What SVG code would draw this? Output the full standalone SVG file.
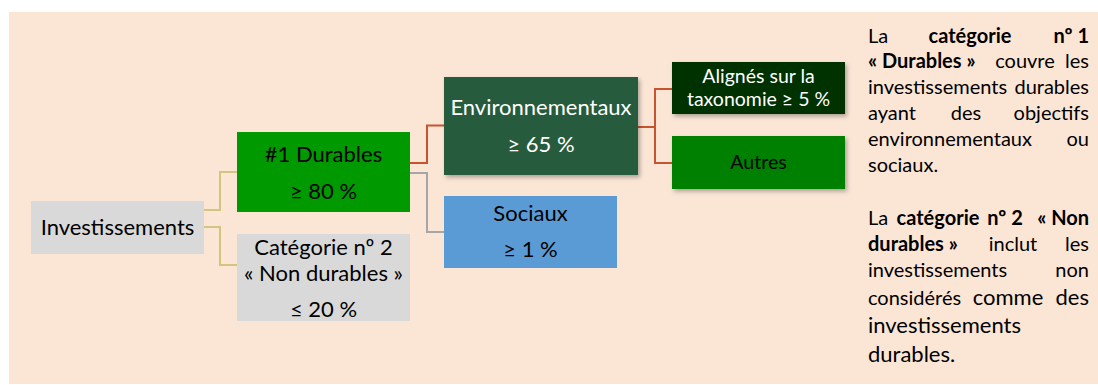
<svg xmlns="http://www.w3.org/2000/svg" width="1098" height="385" viewBox="0 0 1098 385">
<style>
text{font-family:Lato,"Liberation Sans",sans-serif;fill:#000}
.n{font-size:22px;text-anchor:middle}
.s{font-size:19.5px;text-anchor:middle}
.w{fill:#fff}
.p{font-size:20px}
.b{font-weight:bold}
.L{font-size:22px}
.m{text-anchor:middle}
.e{text-anchor:end}
.c{fill:none;stroke-width:2}
</style>
<defs>
<filter id="sh" x="-10%" y="-20%" width="125%" height="150%">
<feDropShadow dx="2" dy="2.5" stdDeviation="2" flood-color="#000" flood-opacity="0.3"/>
</filter>
</defs>
<rect x="9" y="12" width="1089" height="372" fill="#fbe6d6"/>
<g id="connectors">
<path class="c" stroke="#d3c57f" d="M204,210H220V172H237M204,227H220V265H237"/>
<path class="c" stroke="#c8532f" d="M410,163H427V125.5H444"/>
<path class="c" stroke="#a6a6a6" d="M410,173H427V232H444"/>
<path class="c" stroke="#c8532f" d="M638,127H655V89H672M655,127V163H672"/>
</g>
<g id="investissements">
<rect x="31" y="201" width="173" height="53" fill="#d9d9d9"/>
<text class="n" x="117.5" y="235">Investissements</text>
</g>
<g id="durables">
<rect x="237" y="132" width="173" height="80" fill="#009900"/>
<text class="n" x="323.5" y="162">#1 Durables</text>
<text class="n" x="323.5" y="199">≥ 80 %</text>
</g>
<g id="non-durables">
<rect x="237" y="234" width="173" height="87" fill="#d9d9d9"/>
<text class="n" x="323.5" y="255">Catégorie nº 2</text>
<text class="n" x="323.5" y="281">« Non durables »</text>
<text class="n" x="323.5" y="317">≤ 20 %</text>
</g>
<g id="environnementaux">
<rect x="444" y="77" width="194" height="98" fill="#275b3c" filter="url(#sh)"/>
<text class="n w" x="541" y="115">Environnementaux</text>
<text class="n w" x="541" y="152">≥ 65 %</text>
</g>
<g id="sociaux">
<rect x="444" y="196" width="173" height="72" fill="#5b9bd5"/>
<text class="n" x="530.5" y="221">Sociaux</text>
<text class="n" x="530.5" y="257">≥ 1 %</text>
</g>
<g id="alignes">
<rect x="672" y="62" width="173" height="52" fill="#003300" filter="url(#sh)"/>
<text class="s w" x="758.5" y="83">Alignés sur la</text>
<text class="s w" x="758.5" y="106">taxonomie ≥ 5 %</text>
</g>
<g id="autres">
<rect x="672" y="136" width="173" height="53" fill="#008000" filter="url(#sh)"/>
<text class="s" x="758.5" y="169">Autres</text>
</g>
<g id="legend">
<text class="p" x="868" y="43">La</text>
<text class="p b m" x="970" y="43">catégorie</text>
<text class="p b e" x="1089" y="43">nº 1</text>
<text class="p b" x="868" y="68">« Durables »</text>
<text class="p m" x="1025" y="68">couvre</text>
<text class="p e" x="1089" y="68">les</text>
<text class="p" x="868" y="94">investissements</text>
<text class="p e" x="1089" y="94">durables</text>
<text class="p" x="868" y="120">ayant</text>
<text class="p m" x="966" y="120">des</text>
<text class="p e" x="1089" y="120">objectifs</text>
<text class="p" x="868" y="146">environnementaux</text>
<text class="p e" x="1089" y="146">ou</text>
<text class="p" x="868" y="172">sociaux.</text>
<text class="p" x="868" y="225">La</text>
<text class="p b m" x="938" y="225">catégorie</text>
<text class="p b m" x="1005" y="225">nº 2</text>
<text class="p b e" x="1089" y="225">« Non</text>
<text class="p b" x="868" y="251">durables »</text>
<text class="p m" x="1013" y="251">inclut</text>
<text class="p e" x="1089" y="251">les</text>
<text class="p" x="868" y="277">investissements</text>
<text class="p e" x="1089" y="277">non</text>
<text class="p" x="868" y="305">considérés</text>
<text class="L m" x="1008" y="305">comme</text>
<text class="L e" x="1089" y="305">des</text>
<text class="L" x="868" y="333">investissements</text>
<text class="L" x="868" y="362">durables.</text>
</g>
</svg>
